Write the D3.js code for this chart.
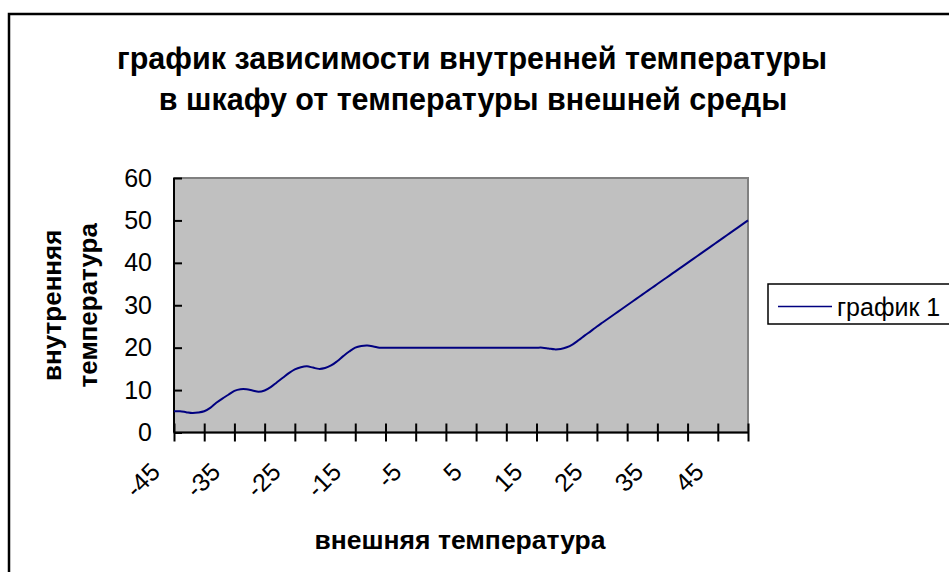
<!DOCTYPE html>
<html>
<head>
<meta charset="utf-8">
<script src="https://cdn.jsdelivr.net/npm/d3@7"></script>
<style>
  body { margin: 0; background: #fff; }
  text { font-family: "Liberation Sans", Arial, sans-serif; }
</style>
</head>
<body>
<div class="chart"></div>
<script>
// data: one point per degree, -45 .. 50
const outside = [
  -45, -44, -43, -42, -41, -40, -39, -38, -37, -36,
  -35, -34, -33, -32, -31, -30, -29, -28, -27, -26,
  -25, -24, -23, -22, -21, -20, -19, -18, -17, -16,
  -15, -14, -13, -12, -11, -10, -9, -8, -7, -6,
  -5, -4, -3, -2, -1, 0, 1, 2, 3, 4,
  5, 6, 7, 8, 9, 10, 11, 12, 13, 14,
  15, 16, 17, 18, 19, 20, 21, 22, 23, 24,
  25, 26, 27, 28, 29, 30, 31, 32, 33, 34,
  35, 36, 37, 38, 39, 40, 41, 42, 43, 44,
  45, 46, 47, 48, 49, 50
];
const inside = [
  5.0, 5.0, 4.8, 4.6, 4.7, 5.0, 5.8, 7.0, 8.0, 8.9,
  9.8, 10.2, 10.2, 9.9, 9.6, 9.9, 10.7, 11.8, 12.9, 14.0,
  14.9, 15.4, 15.6, 15.3, 15.0, 15.2, 15.8, 16.8, 18.0, 19.1,
  20.0, 20.4, 20.5, 20.3, 20.0, 20, 20, 20, 20, 20,
  20, 20, 20, 20, 20, 20, 20, 20, 20, 20,
  20, 20, 20, 20, 20, 20, 20, 20, 20, 20,
  20, 20, 19.8, 19.6, 19.7, 20.1, 20.8, 21.8, 22.9, 23.9,
  25, 26, 27, 28, 29, 30, 31, 32, 33, 34,
  35, 36, 37, 38, 39, 40, 41, 42, 43, 44,
  45, 46, 47, 48, 49, 50
];
const xTicks = [-45, -40, -35, -30, -25, -20, -15, -10, -5, 0, 5, 10, 15, 20, 25, 30, 35, 40, 45, 50];
const xLabels = [-45, -35, -25, -15, -5, 5, 15, 25, 35, 45];
const yTicks = [0, 10, 20, 30, 40, 50, 60];
const seriesName = 'график 1';

const w = 949, h = 572;
const m = {top: 178, left: 174, right: 201, bottom: 139.5};

const svg = d3.select('.chart')
              .append('svg')
              .attr('width', w)
              .attr('height', h);

// outer chart frame (runs off the right and bottom edges)
svg.append('rect')
   .attr('x', 9).attr('y', 14)
   .attr('width', 980).attr('height', 620)
   .attr('fill', '#fff')
   .attr('stroke', '#000')
   .attr('stroke-width', 2.5);

const x = d3.scaleLinear().domain([-45, 50]).range([m.left, w - m.right]);
const y = d3.scaleLinear().domain([0, 60]).range([h - m.bottom, m.top]);

// plot area
svg.append('rect')
   .attr('x', x(-45)).attr('y', y(60))
   .attr('width', x(50) - x(-45)).attr('height', y(0) - y(60))
   .attr('fill', '#c0c0c0')
   .attr('stroke', '#808080')
   .attr('stroke-width', 2);

// y axis, ticks crossing the line
const yAxis = svg.append('g')
   .attr('transform', `translate(${x(-45)},0)`)
   .call(d3.axisLeft(y).tickValues(yTicks).tickSize(8).tickPadding(14));
yAxis.selectAll('.tick line').attr('x2', 8);
yAxis.selectAll('text').attr('font-size', 25).attr('fill', '#000');
yAxis.selectAll('line, path').attr('stroke', '#000').attr('stroke-width', 2);
yAxis.select('.domain').attr('d', `M0,${y(0)}V${y(60)}`);

// x axis
const xAxis = svg.append('g')
   .attr('transform', `translate(0,${y(0)})`)
   .call(d3.axisBottom(x).tickValues(xTicks).tickSize(9)
           .tickFormat(d => xLabels.includes(d) ? String(d) : ''));
xAxis.selectAll('.tick line').attr('y1', -9);
xAxis.selectAll('line, path').attr('stroke', '#000').attr('stroke-width', 2);
xAxis.select('.domain').attr('d', `M${x(-45)},0H${x(50)}`);
xAxis.selectAll('text')
     .attr('font-size', 25)
     .attr('fill', '#000')
     .attr('y', 0).attr('dy', 0)
     .attr('text-anchor', 'end')
     .attr('transform', 'translate(-13,41) rotate(-45)');

// the series
const line = d3.line()
               .x((d, i) => x(outside[i]))
               .y(d => y(d))
               .curve(d3.curveCatmullRom);

svg.append('path')
   .datum(inside)
   .attr('d', line)
   .attr('fill', 'none')
   .attr('stroke', '#000080')
   .attr('stroke-width', 2);

// titles
const title = svg.append('text')
   .attr('text-anchor', 'middle')
   .attr('font-size', 30.5)
   .attr('font-weight', 'bold');
title.append('tspan').attr('x', 472).attr('y', 69).text('график зависимости внутренней температуры');
title.append('tspan').attr('x', 473).attr('y', 110).text('в шкафу от температуры внешней среды');

svg.append('text')
   .attr('x', 460).attr('y', 549)
   .attr('text-anchor', 'middle')
   .attr('font-size', 26.5)
   .attr('font-weight', 'bold')
   .text('внешняя температура');

const yTitle = svg.append('text')
   .attr('transform', `translate(0,${(y(0) + y(60)) / 2}) rotate(-90)`)
   .attr('text-anchor', 'middle')
   .attr('font-size', 26)
   .attr('font-weight', 'bold');
yTitle.append('tspan').attr('x', 0).attr('y', 61).text('внутренняя');
yTitle.append('tspan').attr('x', 0).attr('y', 97).text('температура');

// legend
const legend = svg.append('g');
legend.append('rect')
      .attr('x', 768).attr('y', 284)
      .attr('width', 240).attr('height', 40)
      .attr('fill', '#fff')
      .attr('stroke', '#000')
      .attr('stroke-width', 1.5);
legend.append('line')
      .attr('x1', 778).attr('x2', 832)
      .attr('y1', 306.5).attr('y2', 306.5)
      .attr('stroke', '#000080')
      .attr('stroke-width', 1.5);
legend.append('text')
      .attr('x', 837).attr('y', 316)
      .attr('font-size', 25)
      .text(seriesName);
</script>
</body>
</html>
